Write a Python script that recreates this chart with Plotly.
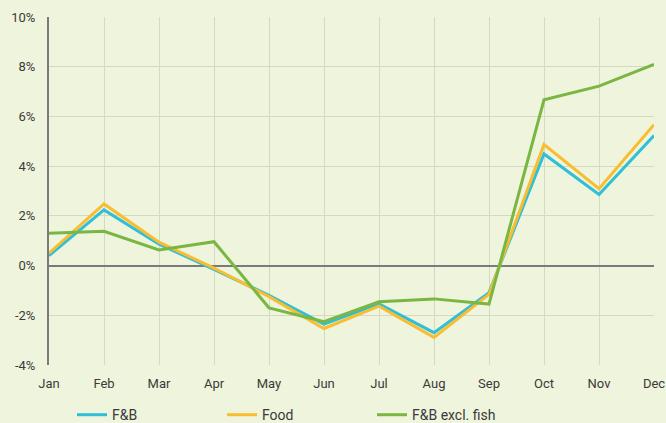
import plotly.graph_objects as go

months = ["Jan", "Feb", "Mar", "Apr", "May", "Jun", "Jul", "Aug", "Sep", "Oct", "Nov", "Dec"]
fb = [0.40, 2.24, 0.86, -0.15, -1.20, -2.35, -1.54, -2.70, -1.09, 4.49, 2.86, 5.23]
food = [0.50, 2.48, 0.94, -0.10, -1.25, -2.53, -1.63, -2.89, -1.16, 4.87, 3.09, 5.67]
fb_excl_fish = [1.30, 1.38, 0.63, 0.96, -1.70, -2.26, -1.46, -1.34, -1.55, 6.67, 7.22, 8.09]
y_ticks = [-4, -2, 0, 2, 4, 6, 8, 10]
y_tick_labels = [f"{v}%" for v in y_ticks]

FONT = "Liberation Sans Narrow, Roboto, sans-serif"
BG = "#eff4dd"

fig = go.Figure()
for name, vals, color in [
    ("F&B", fb, "#2fbfd6"),
    ("Food", food, "#f8bd30"),
    ("F&B excl. fish", fb_excl_fish, "#7ab642"),
]:
    fig.add_trace(go.Scatter(x=months, y=vals, mode="lines", name=name,
                             line=dict(color=color, width=3)))

fig.update_layout(
    width=666, height=423,
    paper_bgcolor=BG, plot_bgcolor=BG,
    margin=dict(l=49, r=12, t=17, b=58, autoexpand=False),
    font=dict(family=FONT, size=13, color="#3a3a3a"),
    showlegend=True,
    legend=dict(orientation="h", x=0.038, xanchor="left",
                y=-0.098, yanchor="top",
                entrywidth=105, entrywidthmode="pixels",
                font=dict(family=FONT, size=14, color="#3a3a3a"),
                bgcolor="rgba(0,0,0,0)"),
    xaxis=dict(range=[0, 11], showgrid=True, gridcolor="#d3d9c3", gridwidth=1,
               tickfont=dict(family=FONT, size=13), ticks="outside", ticklen=6,
               tickcolor="rgba(0,0,0,0)", zeroline=False, showline=False,
               automargin=False),
    yaxis=dict(range=[-4, 10], tickvals=y_ticks, ticktext=y_tick_labels,
               showgrid=True, gridcolor="#d3d9c3", gridwidth=1,
               zeroline=True, zerolinecolor="#7a7a7a", zerolinewidth=2,
               showline=True, linecolor="#7a7a7a", linewidth=2,
               tickfont=dict(family=FONT, size=13), ticks="outside", ticklen=9,
               tickcolor="rgba(0,0,0,0)", automargin=False),
)

fig.write_html("out.html", config={"displayModeBar": False},
               post_script="document.body.style.margin='0';document.body.style.padding='0';")
